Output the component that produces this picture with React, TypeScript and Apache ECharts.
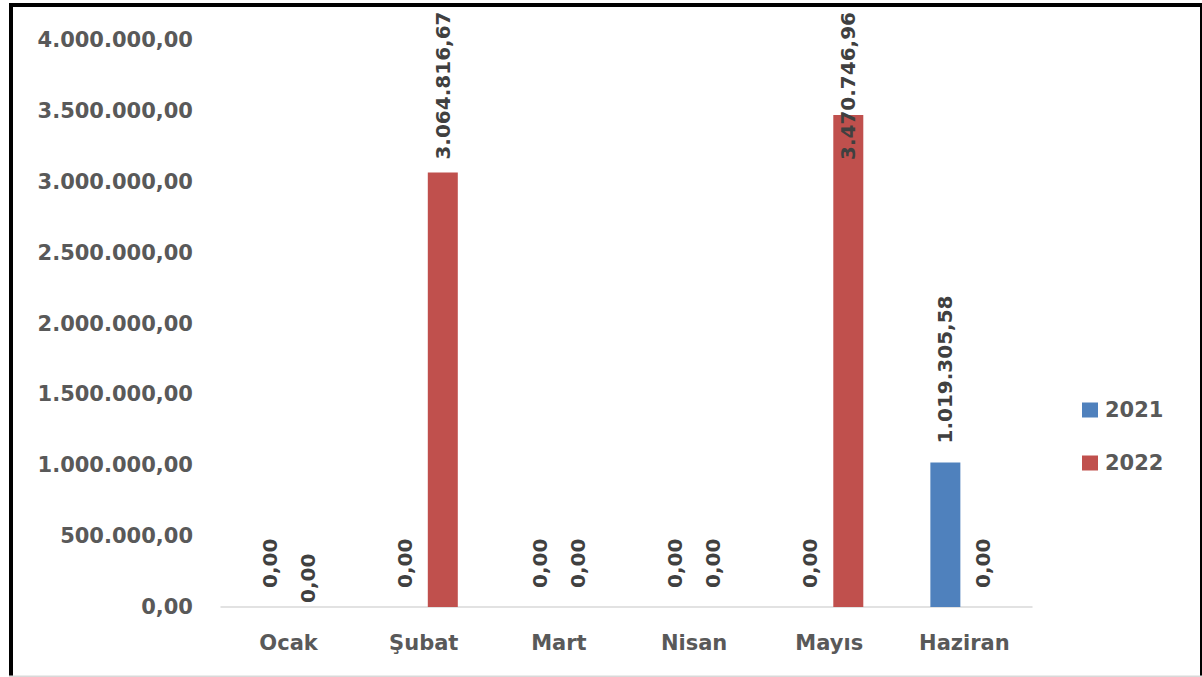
import React, { useEffect, useRef } from "react";
import * as echarts from "echarts";

const categories = ["Ocak", "Şubat", "Mart", "Nisan", "Mayıs", "Haziran"];
const values2021 = [0, 0, 0, 0, 0, 1019305.58];
const values2022 = [0, 3064816.67, 0, 0, 3470746.96, 0];
const seriesNames = ["2021", "2022"];
const yMax = 4000000;
const yInterval = 500000;

// label distances (style tweaks, per bar)
const labelDist2021 = [19, 19, 19, 19, 19, 19];
const labelDist2022 = [4, 13, 19, 19, -45, 19];

function fmtTR(v: number): string {
  const fixed = Math.abs(v).toFixed(2);
  const [i, d] = fixed.split(".");
  const int = i.replace(/\B(?=(\d{3})+(?!\d))/g, ".");
  return (v < 0 ? "-" : "") + int + "," + d;
}

const FONT = "'DejaVu Sans', sans-serif";

export default function App() {
  const ref = useRef<HTMLDivElement>(null);
  useEffect(() => {
    if (!ref.current) return;
    const chart = echarts.init(ref.current, null, { renderer: "svg" });
    const mk = (vals: number[], dists: number[]) =>
      vals.map((v, i) => ({ value: v, label: { distance: dists[i] } }));
    const labelCfg = {
      show: true,
      position: "top",
      rotate: 90,
      align: "left",
      verticalAlign: "middle",
      fontFamily: FONT,
      fontSize: 20,
      fontWeight: 600,
      color: "#404040",
      formatter: (p: any) => fmtTR(p.value),
    };
    chart.setOption({
      animation: false,
      backgroundColor: "#ffffff",
      grid: { left: 221, right: 170, top: 40, bottom: 70, containLabel: false },
      legend: {
        orient: "vertical",
        left: 1077,
        top: 394,
        itemWidth: 16,
        itemHeight: 15,
        itemGap: 31,
        icon: "rect",
        data: seriesNames,
        textStyle: {
          fontFamily: FONT,
          fontSize: 21,
          fontWeight: "bold",
          color: "#595959",
          lineHeight: 22,
          padding: [0, 0, 0, 2],
        },
      },
      xAxis: {
        type: "category",
        data: categories,
        axisLine: { show: true, lineStyle: { color: "#D9D9D9", width: 1.5 } },
        axisTick: { show: false },
        axisLabel: {
          margin: 25,
          fontFamily: FONT,
          fontSize: 21,
          fontWeight: "bold",
          color: "#595959",
        },
      },
      yAxis: {
        type: "value",
        min: 0,
        max: yMax,
        interval: yInterval,
        axisLine: { show: false },
        axisTick: { show: false },
        splitLine: { show: false },
        axisLabel: {
          margin: 28,
          fontFamily: FONT,
          fontSize: 21,
          fontWeight: "bold",
          color: "#595959",
          formatter: (v: number) => fmtTR(v),
        },
      },
      series: [
        {
          name: seriesNames[0],
          type: "bar",
          barWidth: 30,
          barGap: "27%",
          itemStyle: { color: "#4F81BD" },
          label: labelCfg,
          data: mk(values2021, labelDist2021),
        },
        {
          name: seriesNames[1],
          type: "bar",
          barWidth: 30,
          itemStyle: { color: "#C0504D" },
          label: labelCfg,
          data: mk(values2022, labelDist2022),
        },
      ],
      graphic: [
        { type: "rect", shape: { x: 9, y: 3, width: 4, height: 674 }, style: { fill: "#000" }, silent: true },
        { type: "rect", shape: { x: 9, y: 3, width: 1193, height: 4 }, style: { fill: "#000" }, silent: true },
        { type: "rect", shape: { x: 1200, y: 3, width: 2, height: 674 }, style: { fill: "#000" }, silent: true },
        { type: "rect", shape: { x: 9, y: 675.5, width: 1193, height: 1.5 }, style: { fill: "#D9D9D9" }, silent: true },
      ],
    });
    return () => chart.dispose();
  }, []);
  return (
    <div
      ref={ref}
      style={{ position: "fixed", left: 0, top: 0, width: 1202, height: 677, background: "#fff" }}
    />
  );
}
